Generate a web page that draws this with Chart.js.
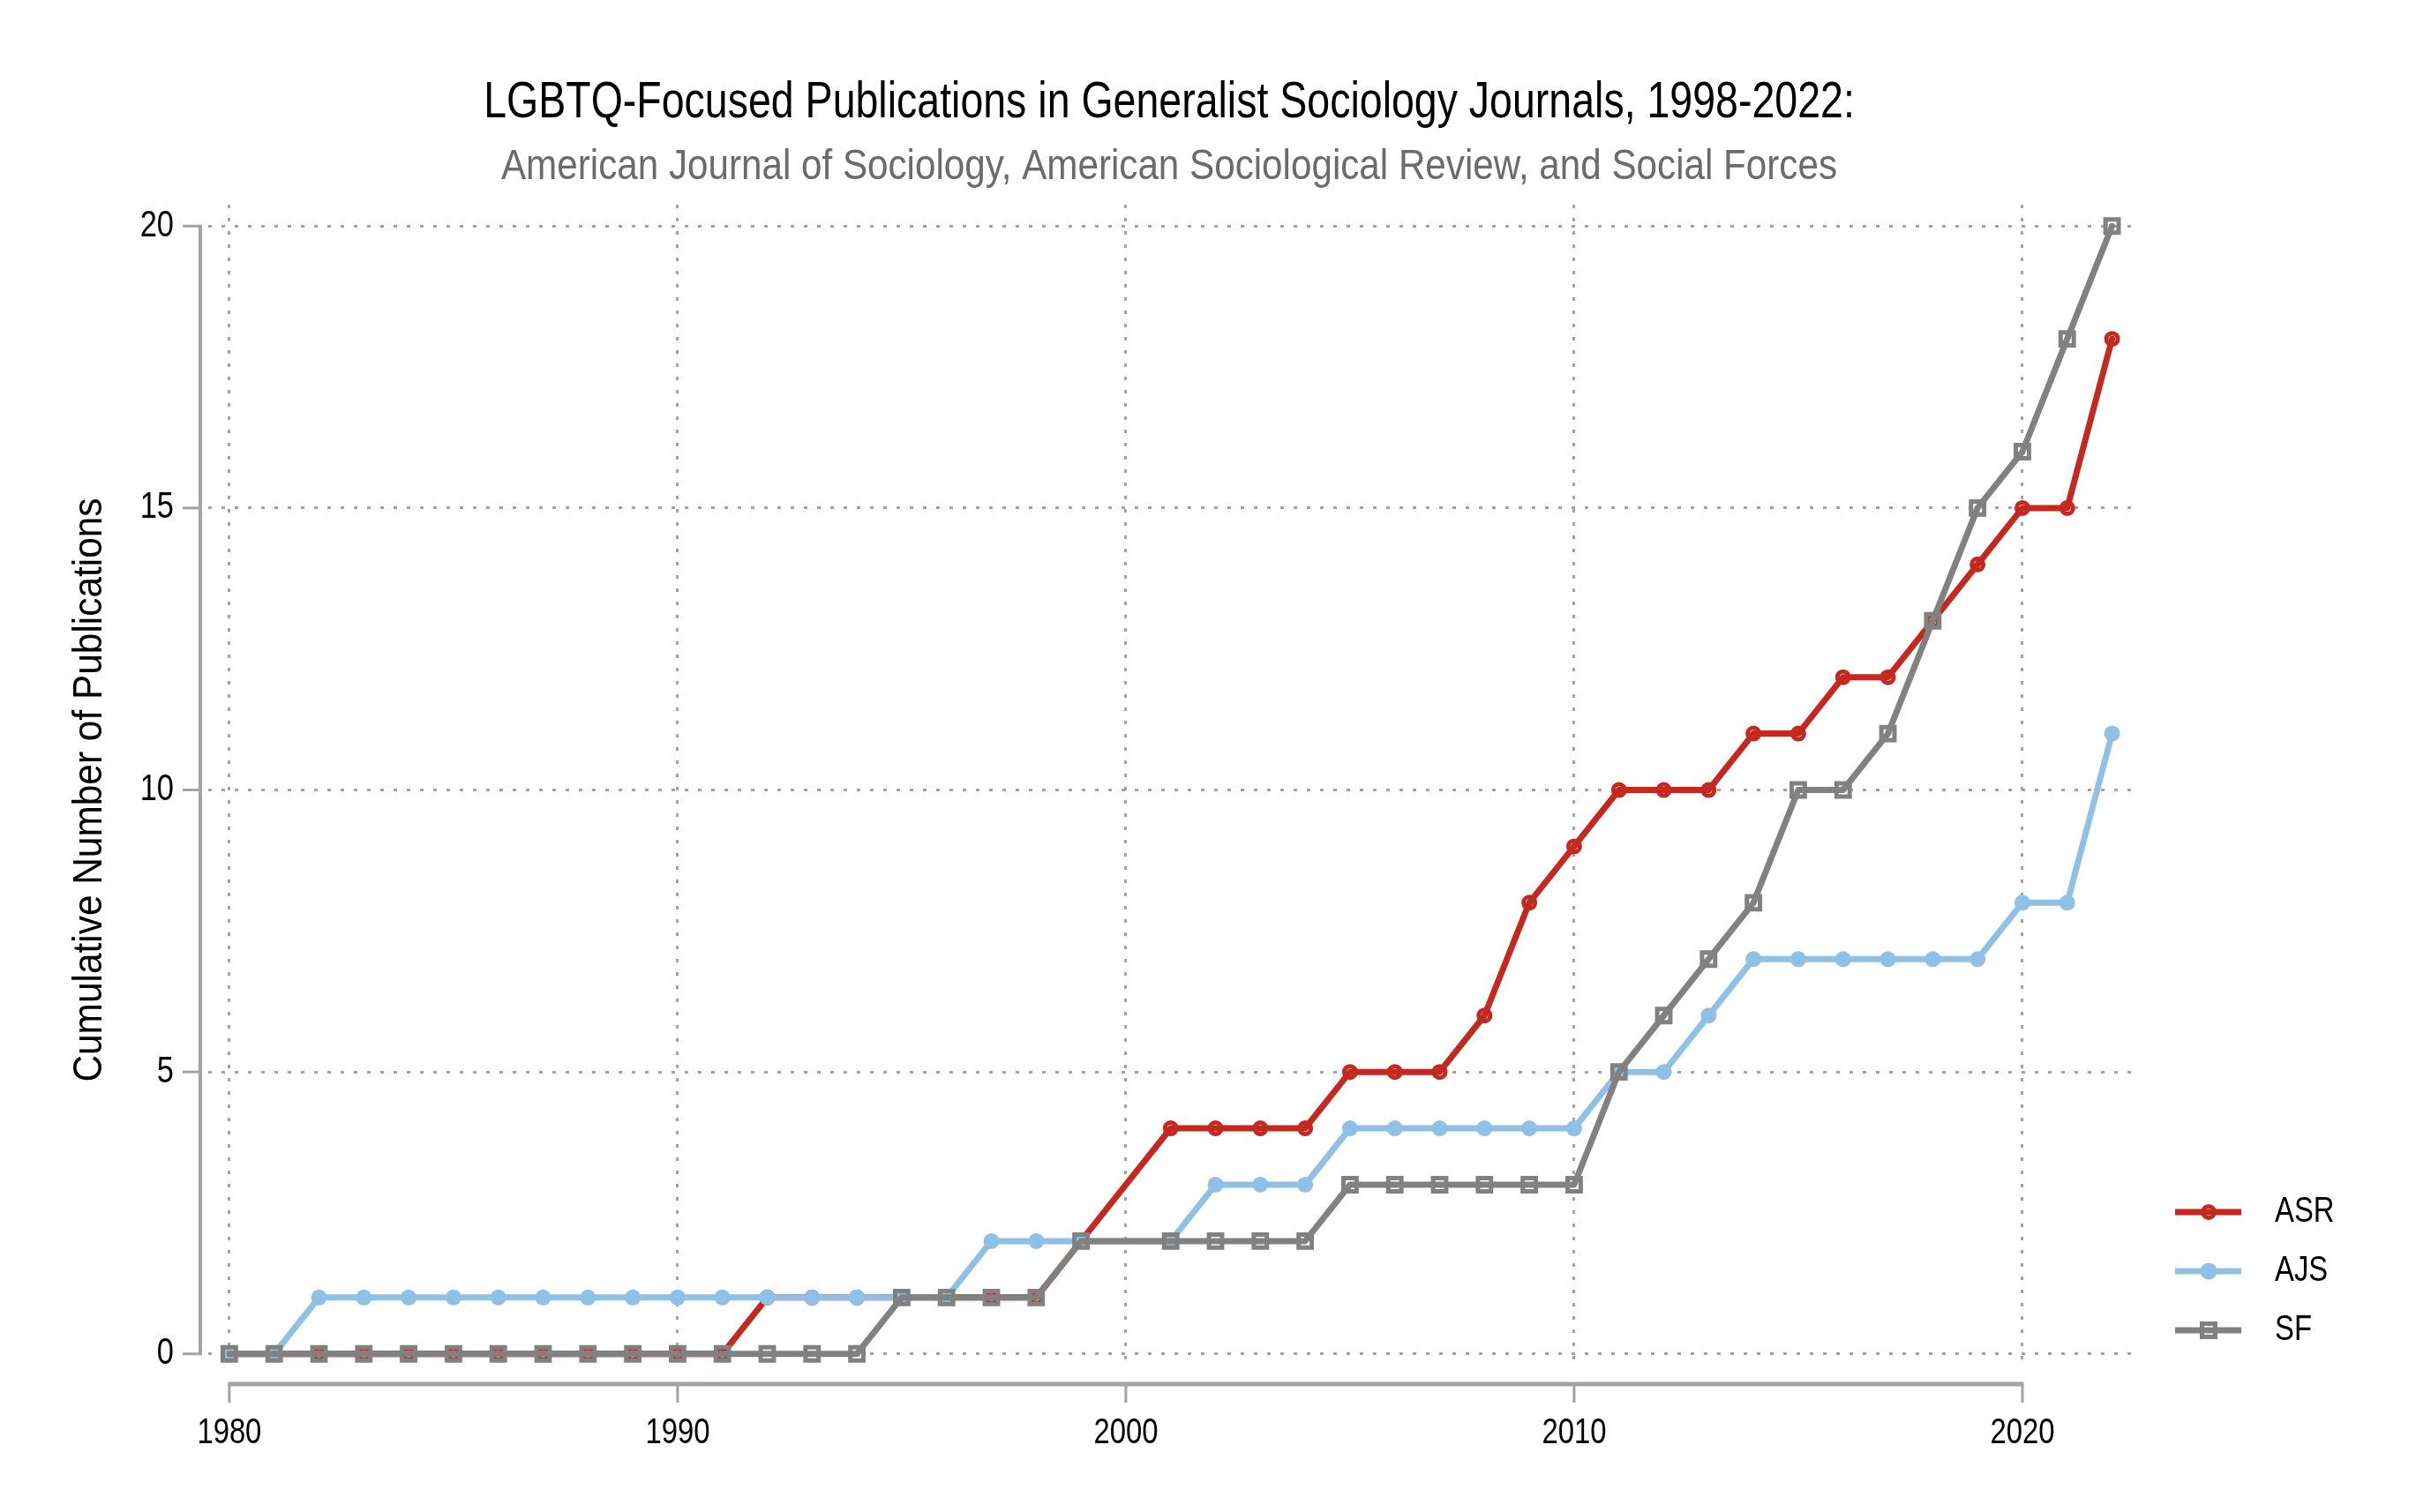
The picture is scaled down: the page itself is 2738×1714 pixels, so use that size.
<!DOCTYPE html>
<html><head><meta charset="utf-8">
<script src="https://cdn.jsdelivr.net/npm/chart.js@4/dist/chart.umd.min.js"></script>
<style>html,body{margin:0;padding:0;background:#fff}#wrap{width:2738px;height:1714px;position:relative}</style>
</head><body><div id="wrap"><canvas id="c" width="2738" height="1714"></canvas></div>
<script>
// ---- data ----
const titleText = 'LGBTQ-Focused Publications in Generalist Sociology Journals, 1998-2022:';
const subtitleText = 'American Journal of Sociology, American Sociological Review, and Social Forces';
const yAxisTitle = 'Cumulative Number of Publications';
const years = [1980,1981,1982,1983,1984,1985,1986,1987,1988,1989,1990,1991,1992,1993,1994,1995,1996,1997,1998,1999,2000,2001,2002,2003,2004,2005,2006,2007,2008,2009,2010,2011,2012,2013,2014,2015,2016,2017,2018,2019,2020,2021,2022];
const asr = [0,0,0,0,0,0,0,0,0,0,0,0,1,1,1,1,1,1,1,2,null,4,4,4,4,5,5,5,6,8,9,10,10,10,11,11,12,12,13,14,15,15,18];
const ajs = [0,0,1,1,1,1,1,1,1,1,1,1,1,1,1,1,1,2,2,2,null,2,3,3,3,4,4,4,4,4,4,5,5,6,7,7,7,7,7,7,8,8,11];
const sf  = [0,0,0,0,0,0,0,0,0,0,0,0,0,0,0,1,1,1,1,2,null,2,2,2,2,3,3,3,3,3,3,5,6,7,8,10,10,11,13,15,16,18,20];
const xTicks = [1980,1990,2000,2010,2020];
const yTicks = [0,5,10,15,20];
const seriesNames = ['ASR','AJS','SF'];

// ---- styles ----
const RED = '#c4281f', BLUE = '#8fc0e6', GRAY = '#818181', AXIS = '#a3a3a3';
const F_NARROW = '"Liberation Sans Narrow"';
function hasFont(name){
  const c = document.createElement('canvas').getContext('2d');
  const s = 'ABCDEFGabcdefg1234';
  c.font = '40px monospace'; const a = c.measureText(s).width;
  c.font = '40px ' + name + ', monospace'; const b = c.measureText(s).width;
  return Math.abs(a-b) > 0.5;
}
const narrowOK = hasFont(F_NARROW);
function txt(ctx, s, x, y, size, color, align, baseline, stretch){
  ctx.save();
  ctx.fillStyle = color; ctx.textBaseline = baseline || 'middle'; ctx.textAlign = align || 'left';
  ctx.translate(x, y);
  let sx = stretch || 1;
  if (narrowOK) { ctx.font = size + 'px ' + F_NARROW; }
  else { ctx.font = size + 'px "Liberation Sans", Arial, sans-serif'; sx *= 0.82; }
  ctx.scale(sx, 1);
  ctx.fillText(s, 0, 0);
  ctx.restore();
}
const pts = arr => years.map((y,i) => ({x: y, y: arr[i]}));

const decor = {
  id: 'decor',
  afterDraw(chart){
    const ctx = chart.ctx, ca = chart.chartArea;
    const xs = chart.scales.x, ys = chart.scales.y;
    const cx = (ca.left + ca.right) / 2 - 4;
    // titles
    txt(ctx, titleText, cx, 133, 57, '#000', 'center', 'alphabetic', 0.995);
    txt(ctx, subtitleText, cx, 203, 49, '#6b6b6b', 'center', 'alphabetic', 1.05);
    // y axis title
    ctx.save(); ctx.translate(102, (ys.getPixelForValue(0)+ys.getPixelForValue(20))/2); ctx.rotate(-Math.PI/2);
    txt(ctx, yAxisTitle, 0, 0, 47, '#000', 'center', 'middle', 1.1);
    ctx.restore();
    // axes
    ctx.save();
    ctx.strokeStyle = AXIS; ctx.lineCap = 'butt';
    const yAxX = 227;
    ctx.lineWidth = 4;
    ctx.beginPath(); ctx.moveTo(yAxX, ys.getPixelForValue(yTicks[0])+1.5); ctx.lineTo(yAxX, ys.getPixelForValue(yTicks[yTicks.length-1])-1.5); ctx.stroke();
    ctx.lineWidth = 3;
    yTicks.forEach(v => { const py = ys.getPixelForValue(v); ctx.beginPath(); ctx.moveTo(yAxX, py); ctx.lineTo(207, py); ctx.stroke(); });
    const xAxY = 1569;
    ctx.lineWidth = 5;
    ctx.beginPath(); ctx.moveTo(xs.getPixelForValue(xTicks[0])-1.5, xAxY); ctx.lineTo(xs.getPixelForValue(xTicks[xTicks.length-1])+1.5, xAxY); ctx.stroke();
    ctx.lineWidth = 3;
    xTicks.forEach(v => { const px = xs.getPixelForValue(v); ctx.beginPath(); ctx.moveTo(px, xAxY); ctx.lineTo(px, 1590); ctx.stroke(); });
    ctx.restore();
    // tick labels
    yTicks.forEach(v => txt(ctx, String(v), 197, ys.getPixelForValue(v), 42, '#000', 'right', 'middle'));
    xTicks.forEach(v => txt(ctx, String(v), xs.getPixelForValue(v), 1625, 40, '#000', 'center', 'middle'));
    // legend
    const legY = [1374, 1441, 1508];
    chart.data.datasets.forEach((ds, i) => {
      const y = legY[i], mx = 2503;
      ctx.save();
      ctx.strokeStyle = ds.borderColor; ctx.lineWidth = 7;
      ctx.beginPath(); ctx.moveTo(2465, y); ctx.lineTo(2540, y); ctx.stroke();
      ctx.fillStyle = ds.borderColor;
      if (ds.pointStyle === 'rect') {
        ctx.lineWidth = 5; ctx.strokeRect(mx-7.5, y-7.5, 15, 15);
      } else if (ds.pointBorderWidth > 0) {
        ctx.lineWidth = 5; ctx.beginPath(); ctx.arc(mx, y, 6.5, 0, Math.PI*2); ctx.stroke();
      } else {
        ctx.beginPath(); ctx.arc(mx, y, 9.5, 0, Math.PI*2); ctx.fill();
      }
      ctx.restore();
      txt(ctx, ds.label, 2578, y, 40, '#000', 'left', 'middle');
    });
  }
};

new Chart(document.getElementById('c'), {
  type: 'line',
  data: {
    datasets: [
      { label: seriesNames[0], data: pts(asr), borderColor: RED, backgroundColor: RED, borderWidth: 7,
        pointStyle: 'circle', pointRadius: 6.5, pointBorderWidth: 5, pointBackgroundColor: 'rgba(0,0,0,0)', pointBorderColor: RED, order: 3 },
      { label: seriesNames[1], data: pts(ajs), borderColor: BLUE, backgroundColor: BLUE, borderWidth: 7,
        pointStyle: 'circle', pointRadius: 9, pointBorderWidth: 0, pointBackgroundColor: BLUE, pointBorderColor: BLUE, order: 2 },
      { label: seriesNames[2], data: pts(sf), borderColor: GRAY, backgroundColor: GRAY, borderWidth: 7,
        pointStyle: 'rect', pointRadius: 10.5, pointBorderWidth: 5, pointBackgroundColor: 'rgba(0,0,0,0)', pointBorderColor: GRAY, order: 1 }
    ]
  },
  options: {
    responsive: false, animation: false, devicePixelRatio: 1,
    spanGaps: true,
    layout: { padding: { left: 236, right: 316, top: 232, bottom: 162 } },
    plugins: { legend: { display: false }, title: { display: false }, tooltip: { enabled: false } },
    elements: { line: { tension: 0, borderJoinStyle: 'round', borderCapStyle: 'round' } },
    scales: {
      x: { type: 'linear', min: 1979.53, max: 2022.56,
        afterBuildTicks: s => { s.ticks = xTicks.map(v => ({value: v})); },
        ticks: { display: false },
        grid: { color: AXIS, lineWidth: 3, drawTicks: false },
        border: { display: false, dash: [4, 11] } },
      y: { type: 'linear', min: -0.27, max: 20.38,
        afterBuildTicks: s => { s.ticks = yTicks.map(v => ({value: v})); },
        ticks: { display: false },
        grid: { color: AXIS, lineWidth: 3, drawTicks: false },
        border: { display: false, dash: [4, 11] } }
    }
  },
  plugins: [decor]
});
</script>
</body></html>
